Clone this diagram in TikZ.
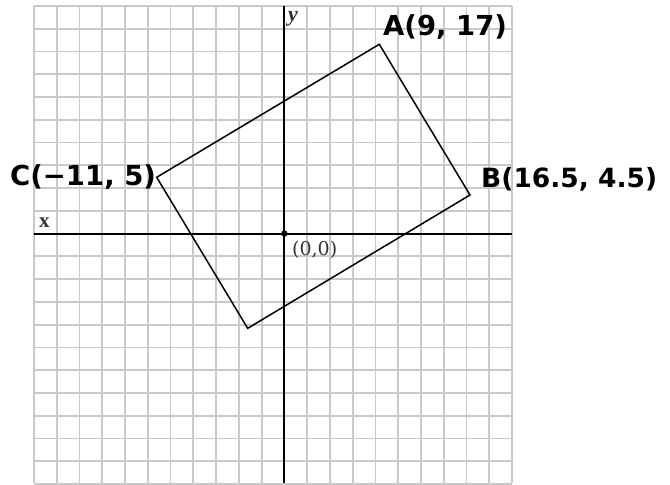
\documentclass[tikz,border=0pt]{standalone}
\usepackage{fontspec}
\setmainfont{Liberation Serif}
\newfontfamily\labfont{DejaVu Sans}
\newfontfamily\oserif{DejaVu Serif}
\tikzset{
  gridline/.style={draw=black!21, line width=1.8pt},
  axisline/.style={draw=black, line width=2pt},
  rectline/.style={draw=black, line width=1.5pt, line join=miter},
  ptlabel/.style={inner sep=0pt, anchor=base west, font=\labfont\bfseries\fontsize{27.5}{30}\selectfont},
  axlabel/.style={inner sep=0pt, text=black!80},
}
\begin{document}
\begin{tikzpicture}[x=1pt,y=-1pt]
\useasboundingbox[fill=white] (0,0) rectangle (670,485);
% grid
\foreach \i in {0,...,21} {
  \draw[gridline] ({34+\i*22.76},6) -- ({34+\i*22.76},483);
  \draw[gridline] (34,{6+\i*22.76}) -- (512,{6+\i*22.76});
}
% axes
\coordinate (xl) at (34,233.6);
\coordinate (xr) at (512,233.6);
\coordinate (yt) at (284.4,6);
\coordinate (yb) at (284.4,483);
\coordinate (O) at (284.4,233.6);
\draw[axisline] (xl) -- (xr);
\draw[axisline] (yt) -- (yb);
\fill (O) circle (3.2pt);
% rectangle
\coordinate (A) at (379.3,44.3);
\coordinate (B) at (470,195);
\coordinate (C) at (156.7,177.3);
\coordinate (D) at (247.7,328.3);
\draw[rectline] (A) -- (B) -- (D) -- (C) -- cycle;
% labels
\node[ptlabel] (la) at (383,35) {A(9, 17)};
\node[ptlabel, font=\labfont\bfseries\fontsize{26.5}{30}\selectfont] (lb) at (481,187) {B(16.5, 4.5)};
\node[ptlabel] (lc) at (10,185) {C(−11, 5)};
\node[axlabel, anchor=base west, font=\oserif\fontsize{19}{22}\selectfont] (lo) at (292,255) {(0,0)};
\node[axlabel, anchor=base west, font=\bfseries\fontsize{21}{24}\selectfont] (lx) at (39,227.7) {x};
\node[axlabel, anchor=base west, font=\bfseries\itshape\fontsize{22}{24}\selectfont] (ly) at (288,21) {y};
\end{tikzpicture}
\end{document}
